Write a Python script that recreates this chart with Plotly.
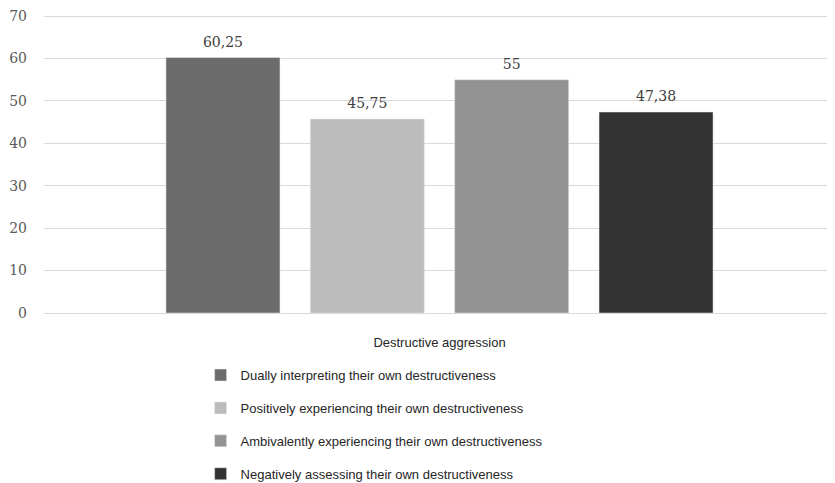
import plotly.graph_objects as go

category = ["Destructive aggression"]
series_names = [
    "Dually interpreting their own destructiveness",
    "Positively experiencing their own destructiveness",
    "Ambivalently experiencing their own destructiveness",
    "Negatively assessing their own destructiveness",
]
series_values = [60.25, 45.75, 55, 47.38]
colors = ["#6b6b6b", "#bcbcbc", "#939393", "#333333"]

SERIF = "DejaVu Serif, Liberation Serif, serif"
SANS = "Liberation Sans, Arial, sans-serif"

fig = go.Figure()
for i, (name, val, col) in enumerate(zip(series_names, series_values, colors)):
    fig.add_trace(go.Bar(
        x=category, y=[val], name=name, marker_color=col,
        offsetgroup=f"g{i}", legendgroup=f"g{i}",
    ))
for i, val in enumerate(series_values):
    fig.add_trace(go.Scatter(
        x=category, y=[val], mode="text+markers",
        marker=dict(size=10, color="rgba(0,0,0,0)"),
        texttemplate="%{y}", textposition="top center",
        textfont=dict(family=SERIF, size=14, color="#404040"),
        offsetgroup=f"g{i}", showlegend=False, hoverinfo="skip", cliponaxis=False,
    ))

# the page body keeps an 8px default margin, so the figure is sized/offset to fit the window
fig.update_layout(
    width=827, height=475,
    margin=dict(l=36, r=0, t=7, b=170, autoexpand=False),
    paper_bgcolor="white", plot_bgcolor="white",
    separators=",.",
    barmode="group", bargap=0.27, bargroupgap=0.21,
    scattermode="group", scattergap=0.27,
    showlegend=True,
    legend=dict(
        x=0.198, y=-0.158, xanchor="left", yanchor="top",
        font=dict(family=SANS, size=13, color="#262626"),
        tracegroupgap=13, itemwidth=30, orientation="v",
        bgcolor="rgba(0,0,0,0)",
    ),
    xaxis=dict(
        showgrid=False, showline=False, ticks="", automargin=False,
        tickfont=dict(family=SANS, size=13, color="#262626"),
        ticklabelstandoff=20,
    ),
    yaxis=dict(
        range=[0, 70.25], tick0=0, dtick=10, showgrid=True, gridcolor="#d9d9d9", gridwidth=1,
        zeroline=True, zerolinecolor="#d9d9d9", zerolinewidth=1, automargin=False,
        tickfont=dict(family=SERIF, size=14, color="#595959"),
        ticklabelstandoff=16, ticklabeloverflow="allow",
    ),
)

fig.write_html("out.html")
